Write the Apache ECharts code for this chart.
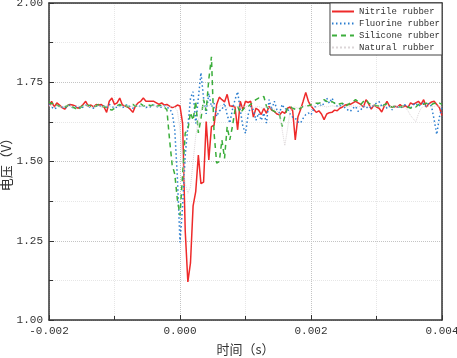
<!DOCTYPE html>
<html>
<head>
<meta charset="utf-8">
<script src="https://cdn.jsdelivr.net/npm/echarts@6/dist/echarts.min.js"></script>
<style>
  html, body { margin: 0; padding: 0; background: #fff; }
  #chart { width: 457px; height: 358px; }
</style>
</head>
<body>
<div id="chart"></div>
<script>
// sampling: first time and step (s)
var t_start = -0.002;
var t_step = 0.00004;

var names = ['Nitrile rubber', 'Fluorine rubber', 'Silicone rubber', 'Natural rubber'];

var nitrile = [
    1.675,1.690,1.672,1.685,1.678,1.670,1.665,1.676,1.680,1.678,
    1.675,1.668,1.672,1.680,1.690,1.675,1.678,1.672,1.680,1.678,
    1.680,1.672,1.655,1.690,1.700,1.680,1.685,1.700,1.678,1.675,
    1.672,1.665,1.655,1.675,1.685,1.690,1.700,1.690,1.690,1.690,
    1.690,1.685,1.680,1.685,1.678,1.680,1.675,1.670,1.672,1.678,
    1.675,1.620,1.280,1.120,1.180,1.360,1.405,1.520,1.430,1.435,
    1.626,1.505,1.610,1.615,1.680,1.703,1.695,1.688,1.712,1.674,
    1.675,1.672,1.600,1.690,1.663,1.690,1.686,1.690,1.640,1.668,
    1.662,1.648,1.668,1.652,1.674,1.662,1.658,1.650,1.647,1.657,
    1.652,1.668,1.672,1.660,1.568,1.640,1.663,1.690,1.718,1.690,
    1.675,1.665,1.655,1.660,1.650,1.632,1.650,1.654,1.655,1.662,
    1.660,1.668,1.672,1.678,1.680,1.680,1.685,1.690,1.685,1.680,
    1.672,1.695,1.682,1.665,1.678,1.672,1.668,1.656,1.675,1.690,
    1.674,1.672,1.674,1.672,1.680,1.672,1.676,1.670,1.685,1.680,
    1.685,1.690,1.680,1.695,1.672,1.682,1.688,1.690,1.680,1.670,
    1.645
];

var fluorine = [
    1.680,1.672,1.665,1.670,1.676,1.672,1.668,1.674,1.678,1.670,
    1.672,1.676,1.668,1.672,1.678,1.674,1.670,1.668,1.674,1.678,
    1.672,1.675,1.670,1.680,1.674,1.668,1.672,1.676,1.670,1.674,
    1.680,1.672,1.668,1.675,1.678,1.672,1.676,1.670,1.674,1.672,
    1.678,1.674,1.670,1.672,1.676,1.672,1.665,1.655,1.600,1.450,
    1.245,1.360,1.520,1.610,1.700,1.720,1.620,1.700,1.780,1.700,
    1.650,1.715,1.672,1.684,1.642,1.660,1.663,1.684,1.647,1.621,
    1.663,1.695,1.720,1.663,1.611,1.589,1.647,1.674,1.663,1.630,
    1.652,1.630,1.653,1.621,1.695,1.663,1.690,1.663,1.653,1.680,
    1.665,1.668,1.650,1.640,1.637,1.625,1.621,1.636,1.648,1.653,
    1.647,1.665,1.678,1.684,1.674,1.684,1.700,1.684,1.700,1.684,
    1.674,1.674,1.684,1.668,1.663,1.658,1.668,1.674,1.658,1.663,
    1.674,1.668,1.674,1.668,1.679,1.684,1.689,1.674,1.679,1.668,
    1.674,1.663,1.674,1.674,1.668,1.674,1.679,1.674,1.668,1.679,
    1.684,1.674,1.679,1.684,1.674,1.684,1.674,1.632,1.585,1.640,
    1.672
];

var silicone = [
    1.688,1.682,1.686,1.678,1.674,1.670,1.672,1.676,1.680,1.672,
    1.668,1.662,1.670,1.676,1.672,1.678,1.674,1.670,1.676,1.680,
    1.672,1.674,1.670,1.665,1.662,1.668,1.676,1.680,1.674,1.678,
    1.672,1.676,1.680,1.674,1.678,1.682,1.676,1.674,1.678,1.676,
    1.680,1.674,1.676,1.678,1.672,1.663,1.570,1.490,1.460,1.380,
    1.330,1.460,1.590,1.600,1.655,1.630,1.690,1.590,1.635,1.695,
    1.660,1.760,1.830,1.590,1.495,1.500,1.568,1.510,1.610,1.568,
    1.610,1.663,1.674,1.653,1.663,1.674,1.674,1.680,1.689,1.695,
    1.700,1.700,1.705,1.674,1.663,1.663,1.658,1.653,1.647,1.610,
    1.642,1.668,1.674,1.668,1.665,1.663,1.668,1.674,1.674,1.676,
    1.679,1.680,1.684,1.684,1.686,1.695,1.690,1.684,1.689,1.684,
    1.679,1.682,1.684,1.674,1.679,1.684,1.689,1.695,1.689,1.680,
    1.689,1.695,1.684,1.680,1.679,1.676,1.674,1.672,1.679,1.682,
    1.674,1.672,1.674,1.674,1.672,1.674,1.676,1.672,1.668,1.674,
    1.672,1.679,1.684,1.680,1.684,1.680,1.679,1.684,1.680,1.684,
    1.680
];

var natural = [
    1.676,1.674,1.672,1.676,1.674,1.672,1.674,1.676,1.674,1.672,
    1.674,1.676,1.672,1.674,1.678,1.674,1.672,1.674,1.676,1.674,
    1.672,1.674,1.676,1.674,1.672,1.676,1.674,1.672,1.674,1.676,
    1.674,1.672,1.674,1.676,1.674,1.672,1.676,1.674,1.672,1.674,
    1.676,1.674,1.672,1.674,1.676,1.674,1.672,1.674,1.670,1.660,
    1.600,1.500,1.430,1.400,1.420,1.500,1.580,1.630,1.660,1.680,
    1.670,1.676,1.680,1.672,1.668,1.674,1.678,1.672,1.668,1.674,
    1.670,1.676,1.672,1.668,1.674,1.672,1.676,1.670,1.668,1.672,
    1.674,1.670,1.668,1.672,1.670,1.668,1.665,1.660,1.650,1.600,
    1.550,1.600,1.660,1.670,1.672,1.668,1.672,1.674,1.676,1.672,
    1.674,1.676,1.672,1.674,1.676,1.674,1.672,1.674,1.676,1.674,
    1.672,1.674,1.676,1.674,1.672,1.674,1.676,1.674,1.672,1.674,
    1.676,1.674,1.672,1.674,1.676,1.674,1.672,1.674,1.676,1.674,
    1.672,1.674,1.676,1.674,1.672,1.674,1.670,1.660,1.645,1.635,
    1.625,1.650,1.668,1.674,1.676,1.674,1.672,1.674,1.676,1.674,
    1.672
];

function toPoints(values) {
    return values.map(function (v, i) { return [t_start + i * t_step, v]; });
}

var chart = echarts.init(document.getElementById('chart'));

var monoFont = 'Liberation Mono';
var cjkFont = 'Noto Sans CJK SC';
var frame = { show: true, onZero: false, lineStyle: { color: '#333', width: 1.5 } };
var gridLine = { show: true, lineStyle: { type: 'dotted', color: '#c4c4c4' } };
var minorGridLine = { show: true, lineStyle: { type: 'dotted', color: '#e6e6e6' } };

var option = {
    animation: false,
    backgroundColor: '#fff',
    grid: { left: 49, right: 15, top: 3, bottom: 38, containLabel: false, outerBoundsMode: 'none' },
    legend: {
        data: names,
        orient: 'vertical',
        right: 15,
        top: 3,
        backgroundColor: '#fff',
        borderColor: '#444',
        borderWidth: 1,
        padding: [4, 2, 3, 1],
        itemWidth: 22,
        itemHeight: 8,
        itemGap: 3,
        itemStyle: { opacity: 0 },
        textStyle: { fontFamily: monoFont, fontSize: 9, color: '#333' }
    },
    xAxis: [
        {
            type: 'value',
            min: -0.002,
            max: 0.004,
            interval: 0.002,
            name: '时间（s）',
            nameLocation: 'middle',
            nameGap: 23,
            nameMoveOverlap: false,
            nameTextStyle: { fontFamily: cjkFont, fontSize: 13, color: '#333' },
            axisLine: frame,
            axisTick: { show: true, inside: true, length: 5, lineStyle: { color: '#333' } },
            minorTick: { show: true, splitNumber: 2, length: 4, lineStyle: { color: '#333' } },
            splitLine: gridLine,
            minorSplitLine: minorGridLine,
            axisLabel: {
                fontFamily: monoFont, fontSize: 11, color: '#333', margin: 6,
                formatter: function (v) { return v.toFixed(3); }
            }
        },
        {
            type: 'value', position: 'top', min: -0.002, max: 0.004,
            axisLine: frame, axisTick: { show: false }, axisLabel: { show: false }, splitLine: { show: false }
        }
    ],
    yAxis: [
        {
            type: 'value',
            min: 1,
            max: 2,
            interval: 0.25,
            name: '电压（V）',
            nameLocation: 'middle',
            nameGap: 36,
            nameMoveOverlap: false,
            nameTextStyle: { fontFamily: cjkFont, fontSize: 13, color: '#333' },
            axisLine: frame,
            axisTick: { show: true, inside: true, length: 5, lineStyle: { color: '#333' } },
            minorTick: { show: true, splitNumber: 2, length: 4, lineStyle: { color: '#333' } },
            splitLine: gridLine,
            minorSplitLine: minorGridLine,
            axisLabel: {
                fontFamily: monoFont, fontSize: 11, color: '#333', margin: 6,
                formatter: function (v) { return v.toFixed(2); }
            }
        },
        {
            type: 'value', position: 'right', min: 1, max: 2,
            axisLine: frame, axisTick: { show: false }, axisLabel: { show: false }, splitLine: { show: false }
        }
    ],
    series: [
        {
            name: names[0], type: 'line', symbol: 'none', data: toPoints(nitrile),
            lineStyle: { color: '#ee2a2a', width: 1.5 }, itemStyle: { color: '#ee2a2a' }
        },
        {
            name: names[1], type: 'line', symbol: 'none', data: toPoints(fluorine),
            lineStyle: { color: '#2a7dcf', width: 1.5, type: [1.5, 2.5] }, itemStyle: { color: '#2a7dcf' }
        },
        {
            name: names[2], type: 'line', symbol: 'none', data: toPoints(silicone),
            lineStyle: { color: '#3cae3c', width: 1.5, type: [5, 4] }, itemStyle: { color: '#3cae3c' }
        },
        {
            name: names[3], type: 'line', symbol: 'none', data: toPoints(natural),
            lineStyle: { color: '#dcd6d8', width: 1, type: 'dotted' }, itemStyle: { color: '#dcd6d8' }
        }
    ]
};

chart.setOption(option);
</script>
</body>
</html>
